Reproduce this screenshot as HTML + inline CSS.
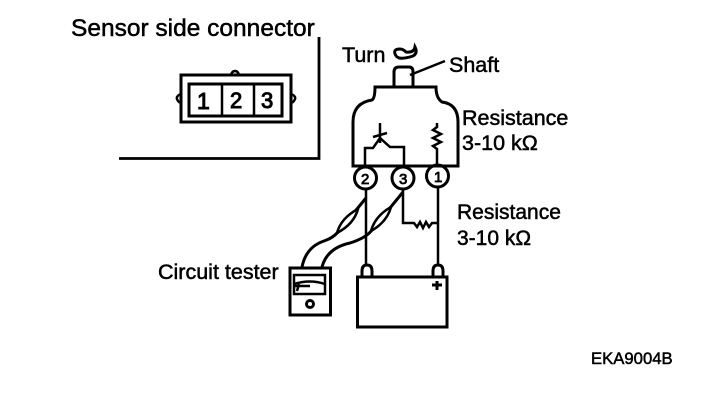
<!DOCTYPE html>
<html><head><meta charset="utf-8"><style>
html,body{margin:0;padding:0;background:#fff}
svg{display:block}
text{font-family:"Liberation Sans",sans-serif;fill:#000;font-size:21.500px;stroke:#000;stroke-width:.5px}
</style></head><body>
<svg width="704" height="412" viewBox="0 0 704 412" xmlns="http://www.w3.org/2000/svg">
<rect width="704" height="412" fill="#fff"/>
<g fill="none" stroke="#000" stroke-width="2.500">
<path d="M319 37V158.500H119" stroke-width="2.800"/>
<!-- connector -->
<rect x="181" y="75" width="110" height="47" stroke-width="3"/>
<rect x="189" y="84" width="93" height="32" stroke-width="3"/>
<path d="M222 84V116M254 84V116"/>
<path d="M231 75q1-4 4-4t4 4M181 94q-5 2-4 5t4 4M291 94q5 2 4 5t-4 4"/>
<!-- sensor body -->
<path d="M353 166V122Q353 103 372 100Q375 98 375 87H436Q436 98 442 102Q458 104 458 122V166Z" stroke-width="3"/>
<path d="M394 87V72Q394 67 399 67H409Q413 67 413 72V87" stroke-width="3"/>
<path d="M410 75L445 61" />
<path d="M396 56q-4-7 4-7 3 0 6 3 8 1 9-5 3 6-2 9-9 3-14 2-2-1-3-2" stroke-width="3"/>
<!-- internal -->
<path d="M365 166V148H373L380 138L390 147H404V166"/>
<path d="M380 123V143M373 137L387 133"/>
<path d="M437 123V127L433 130L441 134L433 138L441 142L433 146L437 149V166"/>
<!-- circles -->
<circle cx="365.500" cy="178" r="11" stroke-width="3"/>
<circle cx="403" cy="178" r="11" stroke-width="3"/>
<circle cx="437.500" cy="176" r="11" stroke-width="3"/>
<!-- wires -->
<path d="M366 189V266M438 187V266"/>
<path d="M403 189V223H414L417 227L420 222L423 228L426 222L429 227L432 223H438"/>
<path d="M366 198L338 232Q333 238 324 241Q306 247 302 267" stroke-width="3"/>
<path d="M403 192L372 230Q366 238 350 243Q327 248 322 267" stroke-width="3"/>
<path d="M337 233Q341 218 358 209Q354 224 337 233ZM371 231Q375 216 391 207Q387 222 371 231Z" fill="#fff"/>
<!-- battery -->
<rect x="357.500" y="277" width="89.500" height="50" stroke-width="3"/>
<path d="M362 277V271Q362 265 367 265Q372 265 372 271V277M433 277V271Q433 265 438 265Q443 265 443 271V277" stroke-width="3"/>
<path d="M432 285H442M437 281V290" stroke-width="3"/>
<!-- tester -->
<rect x="290" y="268" width="40.500" height="47" stroke-width="3"/>
<rect x="294" y="275" width="31" height="19"/>
<path d="M294 284Q310 279 325 284M299 284L297 291M294 286H310"/>
<circle cx="310" cy="304" r="3.500" stroke-width="3"/>
</g>
<g>
<text x="71" y="36" style="font-size:24.500px">Sensor side connector</text>
<text x="342" y="62">Turn</text>
<text x="449" y="72">Shaft</text>
<text x="462" y="125">Resistance</text>
<text x="462" y="150">3-10 kΩ</text>
<text x="457" y="219" style="font-size:21px">Resistance</text>
<text x="457" y="245" style="font-size:21px">3-10 kΩ</text>
<text x="158" y="279" style="font-size:21.500px">Circuit tester</text>
<text x="591" y="364" style="font-size:16.700px">EKA9004B</text>
<text x="197" y="109" style="font-size:23px;stroke-width:1px">1</text>
<text x="230" y="108" style="font-size:22px;stroke-width:1px">2</text>
<text x="261" y="108" style="font-size:22px;stroke-width:1px">3</text>
<text x="361" y="184" style="font-size:15px;stroke-width:.8px">2</text>
<text x="399" y="184" style="font-size:15px;stroke-width:.8px">3</text>
<text x="434" y="182" style="font-size:15px;stroke-width:.8px">1</text>
</g>
</svg>
</body></html>
